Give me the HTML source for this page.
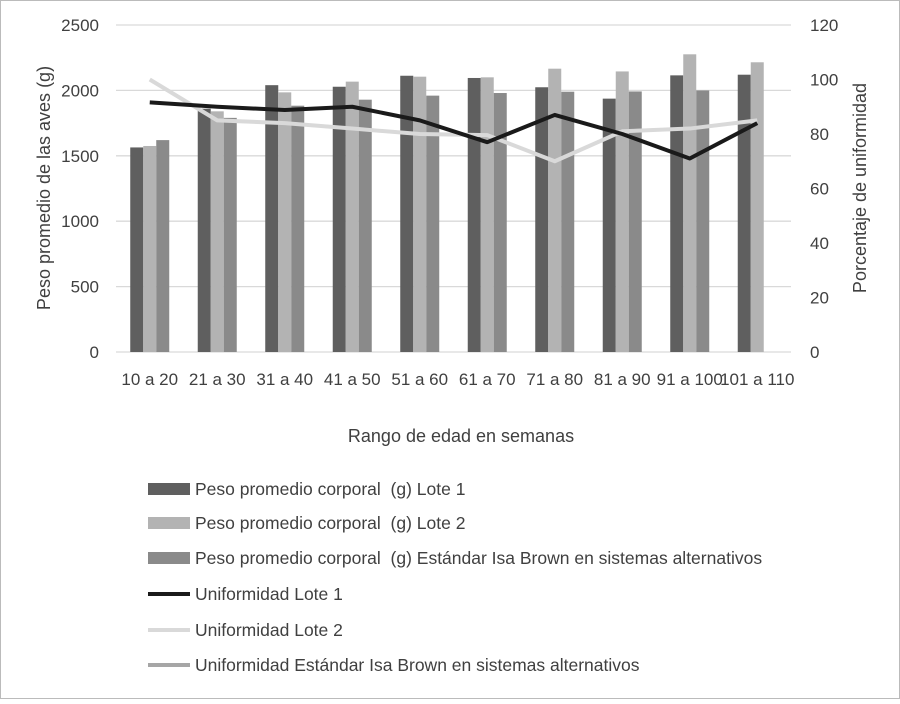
<!DOCTYPE html>
<html><head><meta charset="utf-8"><style>
body{margin:0;background:#fff;}
svg text{font-family:"Liberation Sans",sans-serif;fill:#404040;}
</style></head><body>
<svg id="c" width="900" height="699" xmlns="http://www.w3.org/2000/svg">
<rect x="0.5" y="0.5" width="899" height="698" fill="#fff" stroke="#bbb"/>
<g id="grid"></g><g id="bars"></g><g id="lines"></g><g id="labels"></g>
<text x="461" y="442" font-size="18" text-anchor="middle">Rango de edad en semanas</text>
<text transform="translate(50,188) rotate(-90)" font-size="18" text-anchor="middle">Peso promedio de las aves (g)</text>
<text transform="translate(866,188) rotate(-90)" font-size="18" text-anchor="middle">Porcentaje de uniformidad</text>
<g id="legend"></g>
</svg>
<script>
const categories=["10 a 20","21 a 30","31 a 40","41 a 50","51 a 60","61 a 70","71 a 80","81 a 90","91 a 100","101 a 110"];
const pesoLote1=[1564,1860,2040,2028,2112,2095,2024,1937,2115,2120];
const pesoLote2=[1575,1840,1985,2067,2105,2100,2166,2145,2276,2215];
const pesoEstandar=[1620,1790,1883,1929,1960,1980,1990,1992,2000,null];
const unifLote1=[91.6,90,88.8,90,85,77,87,80,71,84];
const unifLote2=[100,85,84,82,80,79.6,70,81,82,85];
const leftTicks=[0,500,1000,1500,2000,2500];
const rightTicks=[0,20,40,60,80,100,120];
const NS="http://www.w3.org/2000/svg";
const x0=116,x1=791,yb=352,yt=25;
const bw=(x1-x0)/categories.length;
const yL=v=>yb-(v/2500)*(yb-yt);
const yR=v=>yb-(v/120)*(yb-yt);
const xc=i=>x0+bw*(i+0.5);
function mk(t,a,p){const e=document.createElementNS(NS,t);for(const k in a)e.setAttribute(k,a[k]);p.appendChild(e);return e;}
const grid=document.getElementById('grid'),labels=document.getElementById('labels');
leftTicks.forEach(v=>{
 const l=mk('line',{x1:x0,x2:x1,y1:yL(v),y2:yL(v),stroke:'#d9d9d9','stroke-width':1.3},grid);
 
 
 const t=mk('text',{x:99,y:yL(v)+6,'font-size':17,'text-anchor':'end'},labels);t.textContent=v;
 
 
});
rightTicks.forEach(v=>{
 const t=mk('text',{x:810,y:yR(v)+6,'font-size':17},labels);t.textContent=v;
 
 
});
categories.forEach((c,i)=>{
 const t=mk('text',{x:xc(i),y:385,'font-size':17,'text-anchor':'middle'},labels);t.textContent=c;
 
 
});
const bars=document.getElementById('bars');
const series=[[pesoLote1,'#5f5f5f'],[pesoLote2,'#b3b3b3'],[pesoEstandar,'#8a8a8a']];
const w=13;
series.forEach(([arr,col],s)=>{
 arr.forEach((v,i)=>{
  if(v==null)return;
  const r=mk('rect',{x:xc(i)-1.5*w+s*w,y:yL(v),width:w,height:yb-yL(v),fill:col},bars);
  
  
 });
});
const lines=document.getElementById('lines');
[[unifLote2,'#d9d9d9'],[unifLote1,'#1a1a1a']].forEach(([arr,col])=>{
 const p=mk('polyline',{points:arr.map((v,i)=>xc(i)+','+yR(v)).join(' '),fill:'none',stroke:col,'stroke-width':4,'stroke-linejoin':'round'},lines);
 
 
});
const leg=document.getElementById('legend');
const items=[['Peso promedio corporal  (g) Lote 1','#5f5f5f','bar',489],['Peso promedio corporal  (g) Lote 2','#b3b3b3','bar',523],['Peso promedio corporal  (g) Estándar Isa Brown en sistemas alternativos','#8a8a8a','bar',558],['Uniformidad Lote 1','#1a1a1a','line',594],['Uniformidad Lote 2','#d9d9d9','line',630],['Uniformidad Estándar Isa Brown en sistemas alternativos','#a6a6a6','line',665]];
items.forEach(([txt,col,kind,y])=>{
 const g=mk('g',{},leg);
 
 
 if(kind==='bar')mk('rect',{x:148,y:y-6,width:42,height:12,fill:col},g);
 else mk('line',{x1:148,x2:190,y1:y,y2:y,stroke:col,'stroke-width':4},g);
 const t=mk('text',{x:195,y:y+6,'font-size':17.5,'xml:space':'preserve'},g);t.textContent=txt;
 t.setAttribute('style','white-space:pre');
});
</script>
</body></html>
